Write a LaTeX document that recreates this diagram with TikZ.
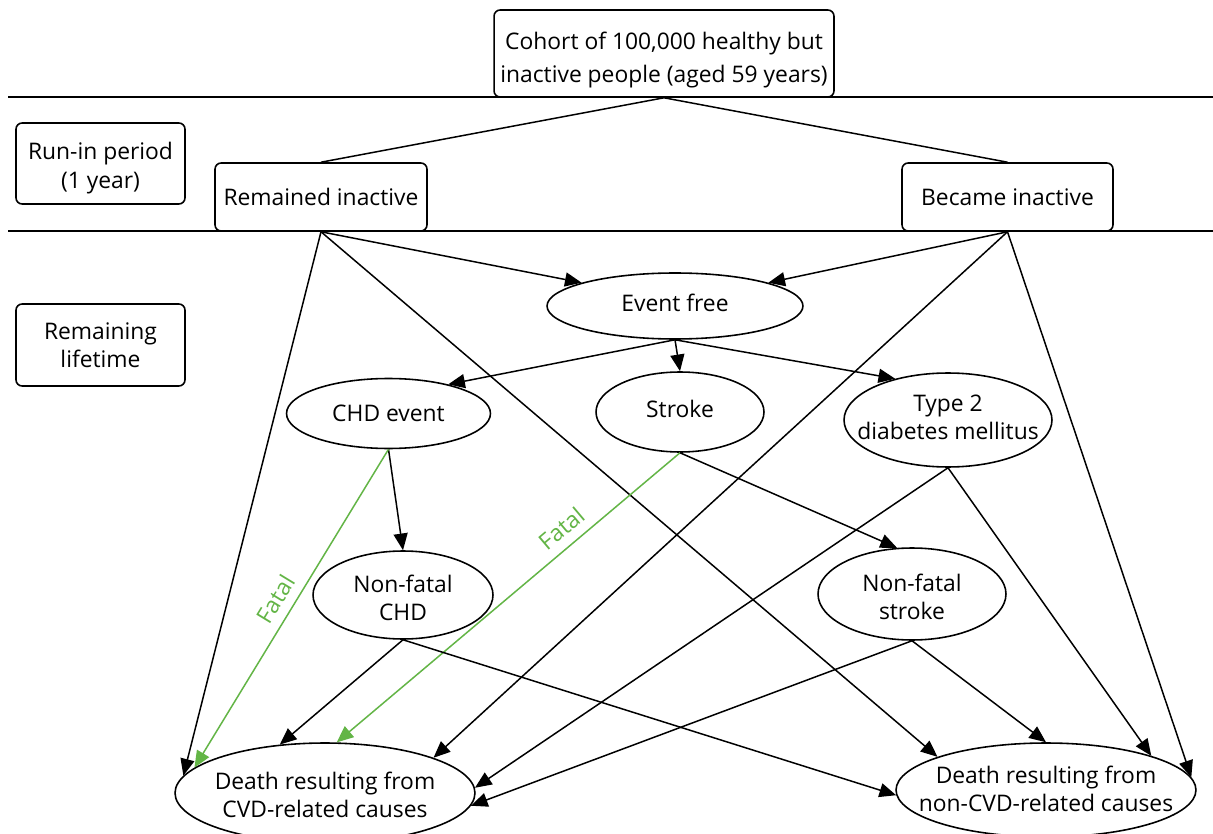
\documentclass[tikz,border=0pt]{standalone}
\usepackage{fontspec}
\setmainfont{Open Sans}
\usetikzlibrary{shapes.geometric,arrows.meta}
\definecolor{fatalgreen}{RGB}{99,181,70}
\newcommand{\ctext}[2][0pt]{\raisebox{#1}[\height][\depth]{\makebox[0pt][c]{\begin{tabular}{@{}c@{}}#2\end{tabular}}}}
\tikzset{
  base/.style={draw=black, line width=0.9pt, inner sep=0pt, align=center, font=\fontsize{13}{16}\selectfont},
  stagebox/.style={base, rectangle, rounded corners=3.5pt},
  ell/.style={base, ellipse},
  conn/.style={line width=0.85pt, black},
  arr/.style={conn, -{Triangle[length=9.5pt,width=8pt]}},
  fatalarr/.style={line width=0.85pt, fatalgreen, -{Triangle[length=9.5pt,width=8pt]}},
  fatallabel/.style={text=fatalgreen, font=\fontsize{13}{16}\selectfont, inner sep=5pt}
}
\begin{document}
\begin{tikzpicture}[x=0.02cm,y=-0.02cm]
\clip (0,0) rectangle (1213,834);
\fill[white] (0,0) rectangle (1213,834);

% horizontal separators
\coordinate (l1a) at (8,97);
\coordinate (l1b) at (1213,97);
\coordinate (l2a) at (8,231);
\coordinate (l2b) at (1213,231);
\draw[conn] (l1a) -- (l1b);
\draw[conn] (l2a) -- (l2b);

% boxes
\node[stagebox, minimum width=6.8cm, minimum height=1.74cm, font=\fontsize{13}{19}\selectfont] (cohort) at (664,53.5)
  {\ctext[-3.4pt]{Cohort of 100,000 healthy but\\inactive people (aged 59 years)}};
\node[stagebox, minimum width=3.38cm, minimum height=1.62cm] (runin) at (100.5,163.5)
  {\ctext[-2.8pt]{Run-in period\\(1 year)}};
\node[stagebox, minimum width=4.24cm, minimum height=1.36cm] (rem) at (321,197)
  {Remained inactive};
\node[stagebox, minimum width=4.22cm, minimum height=1.36cm] (bec) at (1007.5,197)
  {Became inactive};
\node[stagebox, minimum width=3.38cm, minimum height=1.64cm] (life) at (100.5,345)
  {Remaining\\lifetime};

% ellipses
\node[ell, minimum width=5.12cm, minimum height=1.32cm] (ev) at (675,306) {\ctext{Event free}};
\node[ell, minimum width=4.08cm, minimum height=1.4cm] (chd) at (388.5,413.5) {\ctext[-1.1pt]{CHD event}};
\node[ell, minimum width=3.36cm, minimum height=1.6cm] (str) at (680,412) {\ctext{Stroke}};
\node[ell, minimum width=4.16cm, minimum height=1.88cm] (t2d) at (948,420) {\ctext{Type 2\\diabetes mellitus}};
\node[ell, minimum width=3.6cm, minimum height=1.76cm] (nfchd) at (403,595) {\ctext[-3.5pt]{Non-fatal\\CHD}};
\node[ell, minimum width=3.76cm, minimum height=1.84cm] (nfstr) at (912,594) {\ctext[-3.5pt]{Non-fatal\\stroke}};
\node[ell, minimum width=6.0cm, minimum height=2.0cm] (dcvd) at (325,793) {\ctext[-3pt]{Death resulting from\\CVD-related causes}};
\node[ell, minimum width=6.0cm, minimum height=1.88cm] (dncvd) at (1046,790) {\ctext[-1pt]{Death resulting from\\non-CVD-related causes}};

% cohort split
\draw[conn] (cohort.south) -- (rem.north);
\draw[conn] (cohort.south) -- (bec.north);

% from remained inactive
\draw[arr] (rem.south) -- (ev.166);
\draw[arr] (rem.south) -- (dcvd.173);
\draw[arr] (rem.south) -- (dncvd.163);

% from became inactive
\draw[arr] (bec.south) -- (ev.14);
\draw[arr] (bec.south) -- (dcvd.18);
\draw[arr] (bec.south) -- (dncvd.5);

% from event free
\draw[arr] (ev.south) -- (chd.26);
\draw[arr] (ev.south) -- (str.north);
\draw[arr] (ev.south) -- (t2d.142);

% from CHD event
\draw[arr] (chd.south) -- (nfchd.north);
\draw[fatalarr] (chd.south) -- node[pos=0.5, sloped, above, fatallabel] {Fatal} (dcvd.169);

% from stroke
\draw[fatalarr] (str.south) -- node[pos=0.31, sloped, above, fatallabel] {Fatal} (dcvd.77);
\draw[arr] (str.south) -- (nfstr.108);

% from type 2 diabetes
\draw[arr] (t2d.south) -- (dcvd.2);
\draw[arr] (t2d.south) -- (dncvd.18.6);

% from non-fatal CHD
\draw[arr] (nfchd.south) -- (dcvd.133);
\draw[arr] (nfchd.south) -- (dncvd.182);

% from non-fatal stroke
\draw[arr] (nfstr.south) -- (dcvd.-5);
\draw[arr] (nfstr.south) -- (dncvd.north);
\end{tikzpicture}
\end{document}
